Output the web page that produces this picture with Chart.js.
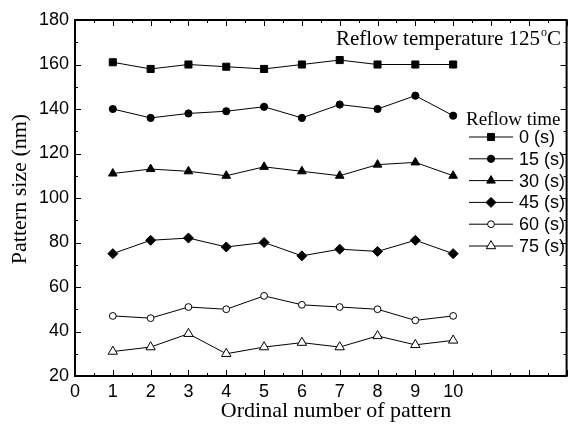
<!DOCTYPE html>
<html>
<head>
<meta charset="utf-8">
<script src="https://cdn.jsdelivr.net/npm/chart.js@4.4.1/dist/chart.umd.min.js"></script>
<style>
  html, body { margin: 0; padding: 0; background: #fff; }
  #chart { display: block; }
</style>
</head>
<body>
<canvas id="chart" width="573" height="424"></canvas>
<script>
// ---- data ----
const patterns = [1, 2, 3, 4, 5, 6, 7, 8, 9, 10];
const reflowTimes = ['0 (s)', '15 (s)', '30 (s)', '45 (s)', '60 (s)', '75 (s)'];
const size0 = [161, 158, 160, 159, 158, 160, 162, 160, 160, 160];
const size15 = [140, 136, 138, 139, 141, 136, 142, 140, 146, 137];
const size30 = [111, 113, 112, 110, 114, 112, 110, 115, 116, 110];
const size45 = [75, 81, 82, 78, 80, 74, 77, 76, 81, 75];
const size60 = [47, 46, 51, 50, 56, 52, 51, 50, 45, 47];
const size75 = [31, 33, 39, 30, 33, 35, 33, 38, 34, 36];
const xTicks = [0, 1, 2, 3, 4, 5, 6, 7, 8, 9, 10];
const yTicks = [20, 40, 60, 80, 100, 120, 140, 160, 180];

const series = [size0, size15, size30, size45, size60, size75];
const markers = [
    { style: 'rect', radius: 5, fill: '#000' },
    { style: 'circle', radius: 3.6, fill: '#000' },
    { style: 'triangle', radius: 5, fill: '#000' },
    { style: 'rectRot', radius: 5, fill: '#000' },
    { style: 'circle', radius: 3.4, fill: '#fff' },
    { style: 'triangle', radius: 5.4, fill: '#fff' }
];

const SANS = '"Liberation Sans", Arial, sans-serif';
const SERIF = '"Liberation Serif", "Times New Roman", serif';

const datasets = series.map((vals, i) => ({
    label: reflowTimes[i],
    data: vals.map((v, j) => ({ x: patterns[j], y: v })),
    borderColor: '#000',
    borderWidth: 1,
    pointStyle: markers[i].style,
    pointRadius: markers[i].radius,
    pointBackgroundColor: markers[i].fill,
    pointBorderColor: '#000',
    pointBorderWidth: 1,
    tension: 0
}));

// frame, inward ticks, titles, note and legend
const decorations = {
    id: 'decorations',
    afterDraw(chart) {
        const ctx = chart.ctx;
        const { left, right, top, bottom } = chart.chartArea;
        const xs = chart.scales.x;
        const ys = chart.scales.y;
        ctx.save();
        ctx.strokeStyle = '#000';

        // ticks
        ctx.lineWidth = 1;
        ctx.beginPath();
        for (let v = xs.min; v <= xs.max + 1e-9; v += 0.5) {
            const px = Math.round(xs.getPixelForValue(v)) + 0.5;
            const len = Number.isInteger(v) ? 6 : 3;
            ctx.moveTo(px, bottom); ctx.lineTo(px, bottom - len);
            ctx.moveTo(px, top); ctx.lineTo(px, top + len);
        }
        for (let v = ys.min; v <= ys.max + 1e-9; v += 10) {
            const py = Math.round(ys.getPixelForValue(v)) + 0.5;
            const len = v % 20 === 0 ? 6 : 3;
            ctx.moveTo(left, py); ctx.lineTo(left + len, py);
            ctx.moveTo(right, py); ctx.lineTo(right - len, py);
        }
        ctx.stroke();

        // frame
        ctx.lineWidth = 2;
        ctx.strokeRect(left, top, right - left, bottom - top);

        // axis titles
        ctx.fillStyle = '#000';
        ctx.font = '22px ' + SERIF;
        ctx.textAlign = 'center';
        ctx.textBaseline = 'alphabetic';
        ctx.fillText('Ordinal number of pattern', 336, 417);
        ctx.save();
        ctx.translate(26, 189);
        ctx.rotate(-Math.PI / 2);
        ctx.fillText('Pattern size (nm)', 0, 0);
        ctx.restore();

        // temperature note
        ctx.font = '21px ' + SERIF;
        ctx.textAlign = 'left';
        const note = 'Reflow temperature 125';
        let nx = 336;
        ctx.fillText(note, nx, 45);
        nx += ctx.measureText(note).width + 1;
        ctx.font = '12px ' + SERIF;
        ctx.fillText('o', nx, 36);
        nx += ctx.measureText('o').width;
        ctx.font = '21px ' + SERIF;
        ctx.fillText('C', nx, 45);

        // legend
        ctx.font = '19px ' + SERIF;
        ctx.fillText('Reflow time', 466, 125);
        ctx.font = '18px ' + SANS;
        ctx.textBaseline = 'middle';
        chart.data.datasets.forEach((ds, i) => {
            const ly = 137 + i * 21.8;
            ctx.lineWidth = 1;
            ctx.beginPath();
            ctx.moveTo(469, ly); ctx.lineTo(513, ly);
            ctx.stroke();
            ctx.fillStyle = ds.pointBackgroundColor;
            Chart.helpers.drawPoint(ctx, {
                pointStyle: ds.pointStyle,
                radius: ds.pointRadius,
                borderWidth: 1,
                rotation: 0
            }, 491, ly);
            ctx.fillStyle = '#000';
            ctx.fillText(ds.label, 519, ly + 1);
        });
        ctx.restore();
    }
};

new Chart(document.getElementById('chart'), {
    type: 'line',
    data: { datasets },
    options: {
        responsive: false,
        animation: false,
        layout: { padding: { top: 20, right: 3, left: 0, bottom: 0 } },
        plugins: {
            legend: { display: false },
            tooltip: { enabled: false }
        },
        scales: {
            x: {
                type: 'linear',
                min: 0,
                max: 13,
                afterFit: (s) => { s.height = 48; },
                afterBuildTicks: (s) => { s.ticks = xTicks.map(v => ({ value: v })); },
                grid: { display: false, drawTicks: false },
                border: { display: false },
                ticks: {
                    color: '#000',
                    padding: 5,
                    maxRotation: 0,
                    autoSkip: false,
                    font: { family: SANS, size: 18 }
                }
            },
            y: {
                min: 20,
                max: 180,
                afterFit: (s) => { s.width = 75; },
                afterBuildTicks: (s) => { s.ticks = yTicks.map(v => ({ value: v })); },
                grid: { display: false, drawTicks: false },
                border: { display: false },
                ticks: {
                    color: '#000',
                    padding: 6,
                    font: { family: SANS, size: 18 }
                }
            }
        }
    },
    plugins: [decorations]
});
</script>
</body>
</html>
